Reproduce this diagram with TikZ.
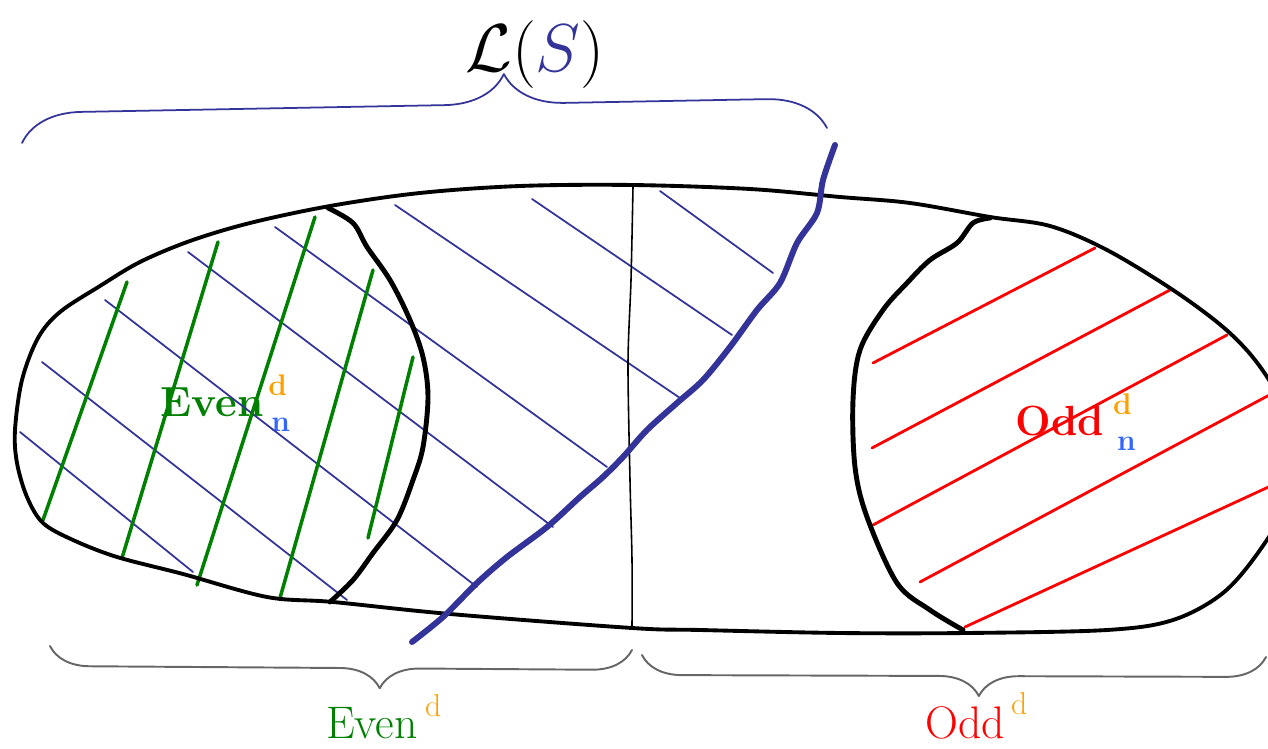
\documentclass[tikz,border=0pt]{standalone}
\usepackage{amsmath}
\usepackage{amssymb}
\usepackage{xcolor}
\usepackage{tikz}
\usetikzlibrary{decorations.pathreplacing, calc}
\definecolor{sketchblue}{RGB}{51,51,153}
\definecolor{sketchgreen}{RGB}{0,128,0}
\definecolor{sketchred}{RGB}{255,0,0}
\definecolor{sketchorange}{RGB}{255,160,0}
\definecolor{sketchsub}{RGB}{51,102,255}
\definecolor{sketchgray}{RGB}{102,102,102}
\tikzset{
    sketch/.style={x=0.02cm, y=-0.02cm, line cap=round, line join=round},
    outline/.style={black, line width=2.2pt},
    splitarc/.style={black, line width=2.8pt},
    divider/.style={black, line width=0.9pt},
    cutline/.style={sketchblue, line width=3.4pt},
    hatchS/.style={sketchblue, line width=1pt},
    hatchE/.style={sketchgreen, line width=2pt},
    hatchO/.style={sketchred, line width=1.6pt},
    % curly braces: top one points up, bottom ones point down
    bracetop/.style={sketchblue, line width=1pt, decorate,
        decoration={brace, amplitude=1.2cm, aspect=#1}},
    bracebot/.style={sketchgray, line width=1.1pt, decorate,
        decoration={brace, mirror, amplitude=0.8cm, aspect=#1}},
    lbl/.style={inner sep=0pt, font=\fontsize{26}{30}\selectfont},
    lblin/.style={inner sep=0pt, font=\bfseries\fontsize{24}{28}\selectfont},
    % index letters d and n
    idx/.style={inner sep=0pt, font=\bfseries\fontsize{17}{20}\selectfont},
}

\begin{document}
\begin{tikzpicture}[sketch]
        \useasboundingbox (0,0) rectangle (1268,749);
        \clip (0,0) rectangle (1268,749);

        \node[inner sep=0pt, font=\Huge] (lang) at (535,55) {\scalebox{1.55}{$\mathcal{L}(\textcolor{sketchblue}{S})$}};

        \node[lblin, text=sketchgreen] (evenIn) at (212,402) {Even};
        \node[idx, text=sketchorange] (evenInD) at ($(evenIn.east)+(14,-17)$) {d};
        \node[idx, text=sketchsub] (evenInN) at ($(evenIn.east)+(17,23)$) {n};

        \node[lblin, text=sketchred] (oddIn) at (1060,421) {Odd};
        \node[idx, text=sketchorange] (oddInD) at ($(oddIn.east)+(18,-17)$) {d};
        \node[idx, text=sketchsub] (oddInN) at ($(oddIn.east)+(22,23)$) {n};

        \node[lbl, text=sketchgreen] (evenOut) at (372,723) {Even};
        \node[idx, font=\fontsize{18}{20}\selectfont, text=sketchorange] (evenOutD) at ($(evenOut.east)+(15,-17)$) {d};

        \node[lbl, text=sketchred] (oddOut) at (965,723) {Odd};
        \node[idx, font=\fontsize{18}{20}\selectfont, text=sketchorange] (oddOutD) at ($(oddOut.east)+(14,-19)$) {d};

        % blue hatching of L(S)
        \foreach \xa/\ya/\xb/\yb in {20/432/193/572, 42/362/347/600, 105/300/477/587,
                188/252/553/527, 275/227/607/467, 395/205/680/398, 532/199/732/335, 660/191/773/273}
            \draw[hatchS] (\xa,\ya) -- (\xb,\yb);

        % green hatching of Even
        \foreach \xa/\ya/\xb/\yb in {43/520/127/282, 122/558/218/242, 197/585/315/217,
                280/598/373/270, 368/538/413/357}
            \draw[hatchE] (\xa,\ya) -- (\xb,\yb);

        % red hatching of Odd
        \foreach \xa/\ya/\xb/\yb in {873/363/1095/248, 872/448/1170/290, 873/525/1227/335,
                920/582/1275/392, 965/627/1275/484}
            \draw[hatchO] (\xa,\ya) -- (\xb,\yb);

        % outer set
        \draw[outline] plot[smooth cycle, tension=0.55] coordinates {
            (15,430) (22,380) (38,338) (60,312) (100,286) (140,262) (190,241) (250,223)
            (330,206) (420,193) (520,186) (632,185) (750,189) (840,197) (910,203) (990,217)
            (1050,226) (1107,250) (1173,290) (1223,327) (1255,360) (1280,400) (1292,445)
            (1285,505) (1260,550) (1223,593) (1173,620) (1107,630) (967,633) (840,633)
            (700,630) (632,628) (450,614) (333,602) (267,597) (183,574) (117,557) (73,540)
            (43,523) (27,497) (17,463)};

        % Even and Odd parts
        \draw[splitarc] plot[smooth, tension=0.55] coordinates {
            (328,208) (353,223) (367,247) (390,280) (410,320) (423,357) (428,397)
            (423,447) (413,480) (397,520) (373,553) (353,580) (330,602)};
        \draw[splitarc] plot[smooth, tension=0.55] coordinates {
            (990,218) (973,223) (957,243) (930,260) (907,283) (883,310) (860,350)
            (853,400) (855,467) (867,517) (897,583) (930,610) (963,630)};

        % middle line
        \draw[divider] plot[smooth] coordinates {(633,187) (631,280) (628,363) (630,480) (632,560) (632,627)};

        % border of L(S)
        \draw[cutline] plot[smooth, tension=0.5] coordinates {
            (835,145) (823,180) (817,213) (797,243) (780,283) (757,310) (730,347)
            (703,380) (677,403) (647,430) (623,457) (603,477) (580,497) (547,527)
            (507,557) (477,583) (443,617) (412,642)};

        % braces
        \draw[bracetop=0.6] (22,143) -- (827,128);
        \draw[bracebot=0.567] (50,646) -- (632,650);
        \draw[bracebot=0.54] (642,655) -- (1266,657);
    \end{tikzpicture}
\end{document}
